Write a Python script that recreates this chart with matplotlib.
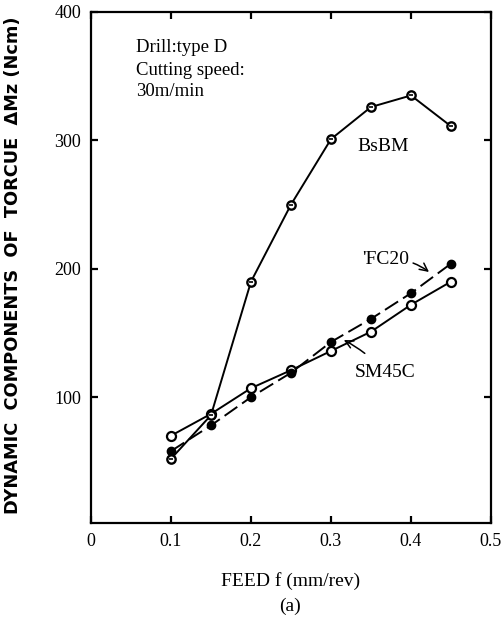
import matplotlib
matplotlib.use("Agg")
import matplotlib.pyplot as plt

# ---- data ----
feed = [0.10, 0.15, 0.20, 0.25, 0.30, 0.35, 0.40, 0.45]
bsbm = [52, 86, 190, 250, 301, 326, 335, 311]
fc20 = [58, 78, 100, 119, 143, 161, 181, 204]
sm45c = [70, 87, 107, 121, 136, 151, 172, 190]

xticks = [0, 0.1, 0.2, 0.3, 0.4, 0.5]
xticklabels = ["0", "0.1", "0.2", "0.3", "0.4", "0.5"]
yticks = [100, 200, 300, 400]
yticklabels = ["100", "200", "300", "400"]

serif = ["Liberation Serif", "DejaVu Serif"]

fig = plt.figure(figsize=(5.04, 6.23), dpi=100)
ax = fig.add_axes([91/504, 1-523/623, 400/504, 511/623])
ax.set_xlim(0, 0.5)
ax.set_ylim(2, 400)

lw = 1.4
# SM45C: solid, open circles
ax.plot(feed, sm45c, color="black", lw=lw, marker="o", ms=6.5,
        mfc="white", mec="black", mew=1.6, zorder=3)
# FC20: dashed, filled circles
ax.plot(feed, fc20, color="black", lw=lw, ls=(0, (8, 3)), marker="o", ms=6,
        mfc="black", mec="black", zorder=4)
# BsBM: solid, circle with inner tick
ax.plot(feed, bsbm, color="black", lw=lw, marker="o", ms=6,
        mfc="white", mec="black", mew=1.7, zorder=5)
ax.plot(feed, bsbm, ls="none", marker="_", ms=3.5, mec="black", mew=1.2, zorder=6)

for s in ax.spines.values():
    s.set_linewidth(1.6)

ax.set_xticks(xticks)
ax.set_xticklabels(xticklabels, fontfamily=serif, fontsize=13)
ax.set_yticks(yticks)
ax.set_yticklabels(yticklabels, fontfamily=serif, fontsize=13)
ax.tick_params(axis="both", direction="in", length=5, width=1.6,
               top=True, right=True, pad=7)

ax.set_xlabel("FEED f (mm/rev)", fontfamily=serif, fontsize=14, labelpad=16)
ax.set_ylabel("DYNAMIC  COMPONENTS  OF  TORCUE  \u0394Mz (Ncm)",
              fontfamily="DejaVu Sans", fontsize=12.8, fontweight="bold")
ax.yaxis.set_label_coords(-0.1725, 0.505)

fig.text(290/504, 1-606/623, "(a)", fontfamily=serif, fontsize=14,
         ha="center", va="center")

ax.text(0.056, 372, "Drill:type D", fontfamily=serif, fontsize=13.5, va="center")
ax.text(0.056, 354.5, "Cutting speed:", fontfamily=serif, fontsize=13.5, va="center")
ax.text(0.056, 338, "30m/min", fontfamily=serif, fontsize=13.5, va="center")

ax.text(0.365, 295, "BsBM", fontfamily=serif, fontsize=14, ha="center", va="center")
ax.annotate("'FC20", xy=(0.4225, 197.5), xytext=(0.3975, 207),
            fontfamily=serif, fontsize=14, ha="right", va="center",
            arrowprops=dict(arrowstyle="->", lw=1.1, color="black",
                            shrinkA=1, shrinkB=0,
                            connectionstyle="arc3,rad=-0.2"))
ax.annotate("SM45C", xy=(0.316, 144.5), xytext=(0.3675, 119),
            fontfamily=serif, fontsize=14, ha="center", va="center",
            arrowprops=dict(arrowstyle="->", lw=1.1, color="black",
                            shrinkA=9, shrinkB=0,
                            connectionstyle="arc3,rad=0.1"))

fig.savefig("out.png", dpi=100)
